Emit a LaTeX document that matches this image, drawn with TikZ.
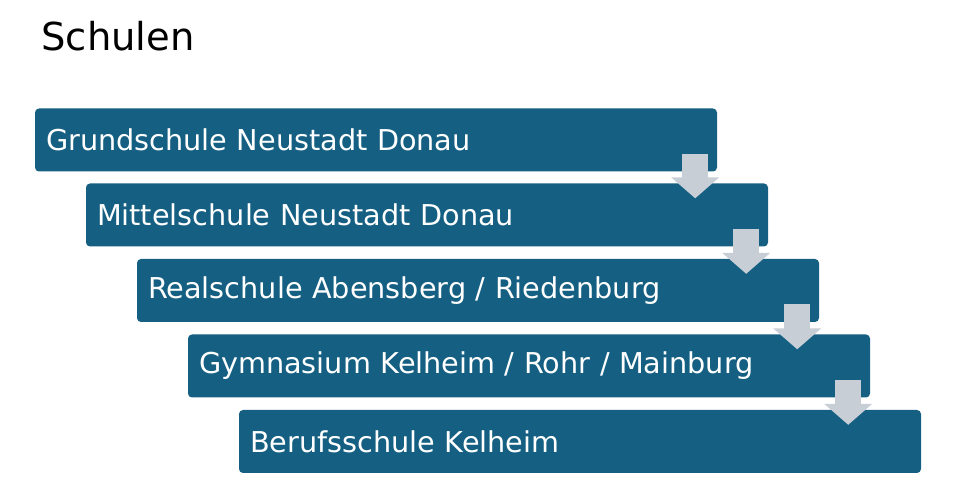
\documentclass[tikz,border=0pt]{standalone}
\usepackage{fontspec}
\setmainfont{DejaVu Sans}
\usepackage{tikz}
\usetikzlibrary{arrows.meta}
\usepackage{xcolor}
\definecolor{boxblue}{HTML}{156082}
\definecolor{arrowgray}{HTML}{C8CED6}
\tikzset{
  schulbox/.style={fill=boxblue, rounded corners=4pt, text=white, minimum height=63pt,
    text width=660pt, inner xsep=11pt, inner ysep=0pt, align=left,
    font=\fontsize{28.7}{31}\selectfont},
  pfeil/.style={draw=arrowgray, line width=26pt, -{Triangle[width=47pt,length=21pt]}}
}
\begin{document}
\begin{tikzpicture}[x=1pt,y=1pt]
\useasboundingbox (0,0) rectangle (960,502);
\node[anchor=base west, font=\fontsize{38.5}{42}\selectfont] (titel) at (38,451) {Schulen};
\node[schulbox] (grund) at (376,362) {Grundschule Neustadt Donau};
\node[schulbox] (mittel) at (427,287) {Mittelschule Neustadt Donau};
\node[schulbox] (real) at (478,211.5) {Realschule Abensberg / Riedenburg};
\node[schulbox] (gym) at (529,136) {Gymnasium Kelheim / Rohr / Mainburg};
\node[schulbox] (beruf) at (580,60.5) {Berufsschule Kelheim};
\draw[pfeil] ([shift={(-22,18)}]grund.south east) -- ([shift={(-73,-15)}]mittel.north east);
\draw[pfeil] ([shift={(-22,18)}]mittel.south east) -- ([shift={(-73,-15)}]real.north east);
\draw[pfeil] ([shift={(-22,18)}]real.south east) -- ([shift={(-73,-15)}]gym.north east);
\draw[pfeil] ([shift={(-22,18)}]gym.south east) -- ([shift={(-73,-15)}]beruf.north east);
\end{tikzpicture}
\end{document}
